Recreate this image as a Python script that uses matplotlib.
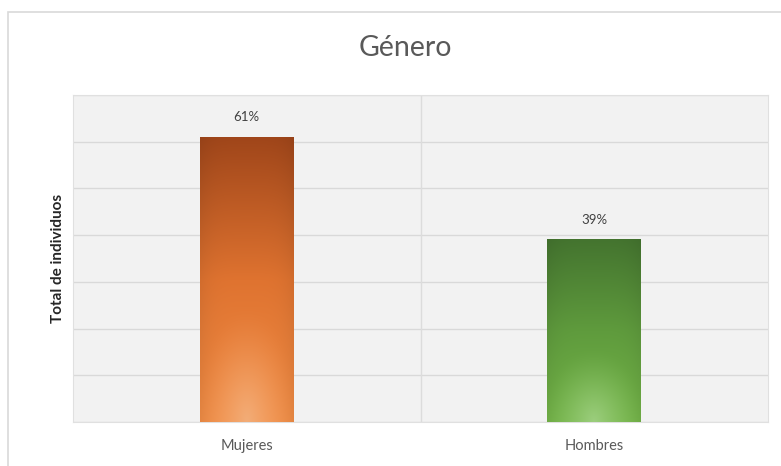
import numpy as np
import matplotlib.pyplot as plt
from matplotlib.colors import to_rgb

categories = ['Mujeres', 'Hombres']
values = [61, 39]
labels = ['61%', '39%']
top_colors = ['#a0461a', '#44742f']
mid_colors = ['#df7330', '#5f9b3d']
bottom_colors = ['#f28d45', '#74b548']
glow_colors = ['#f3ad78', '#9cce7e']

plt.rcParams['font.family'] = ['Lato', 'DejaVu Sans']

fig = plt.figure(figsize=(7.81, 4.66), dpi=100)
fig.patch.set_facecolor('white')

# outer chart frame (partially visible)
frame = plt.Rectangle((8 / 781, -0.1), 1.0, 1 - 12 / 466 + 0.1, transform=fig.transFigure,
                      fill=False, edgecolor='#d9d9d9', linewidth=1.2)
fig.patches.append(frame)

ax = fig.add_axes([73 / 781, 1 - 422 / 466, 695 / 781, 327 / 466])
ax.set_facecolor('#f2f2f2')
ax.set_xlim(-0.5, 1.5)
ax.set_ylim(0, 70)
ax.set_yticks(np.arange(0, 71, 10))
ax.set_yticklabels([])
ax.tick_params(axis='y', length=0, pad=0)
ax.tick_params(axis='x', length=0, pad=12, labelsize=10.5, labelcolor='#595959')
ax.set_xticks(range(len(categories)))
ax.set_xticklabels(categories)
ax.grid(axis='y', color='#d9d9d9', linewidth=1)
ax.axvline(0.5, color='#dcdcdc', linewidth=1)
ax.set_axisbelow(True)
for s in ax.spines.values():
    s.set_color('#e0e0e0')

width = 0.27
ny, nx = 200, 60
yy = np.linspace(0, 1, ny)[:, None]          # 0 at bottom, 1 at top
xx = np.linspace(-1, 1, nx)[None, :]
for i, v in enumerate(values):
    top = np.array(to_rgb(top_colors[i]))
    mid = np.array(to_rgb(mid_colors[i]))
    bot = np.array(to_rgb(bottom_colors[i]))
    glow = np.array(to_rgb(glow_colors[i]))
    t = yy[..., None]
    lower = bot * (1 - t / 0.5) + mid * (t / 0.5)
    upper = mid * (1 - (t - 0.5) / 0.5) + top * ((t - 0.5) / 0.5)
    img = np.where(t < 0.5, lower, upper)
    img = np.broadcast_to(img, (ny, nx, 3)).copy()
    # soft highlight near the bottom centre
    r = np.sqrt((xx * 0.9) ** 2 + (yy * 2.5) ** 2)[..., None]
    w = np.clip(1 - r, 0, 1) ** 1.5
    img = img * (1 - w) + glow * w
    # slight darkening at the sides
    side = (np.abs(xx) ** 4)[..., None] * 0.06
    img = img * (1 - side)
    ax.imshow(img, origin='lower', aspect='auto', zorder=3,
              extent=(i - width / 2, i + width / 2, 0, v), interpolation='bilinear')
    ax.text(i, v + 3, labels[i], ha='center', va='bottom', fontsize=9.5, color='#404040')

ax.set_xlim(-0.5, 1.5)
ax.set_ylim(0, 70)

ax.set_ylabel('Total de individuos', fontsize=11, fontweight='bold', color='#262626', labelpad=6)

fig.text(405 / 781, 1 - 48 / 466, 'Género', ha='center', va='center', fontsize=20.5, color='#595959')

fig.savefig('out.png', dpi=100)
